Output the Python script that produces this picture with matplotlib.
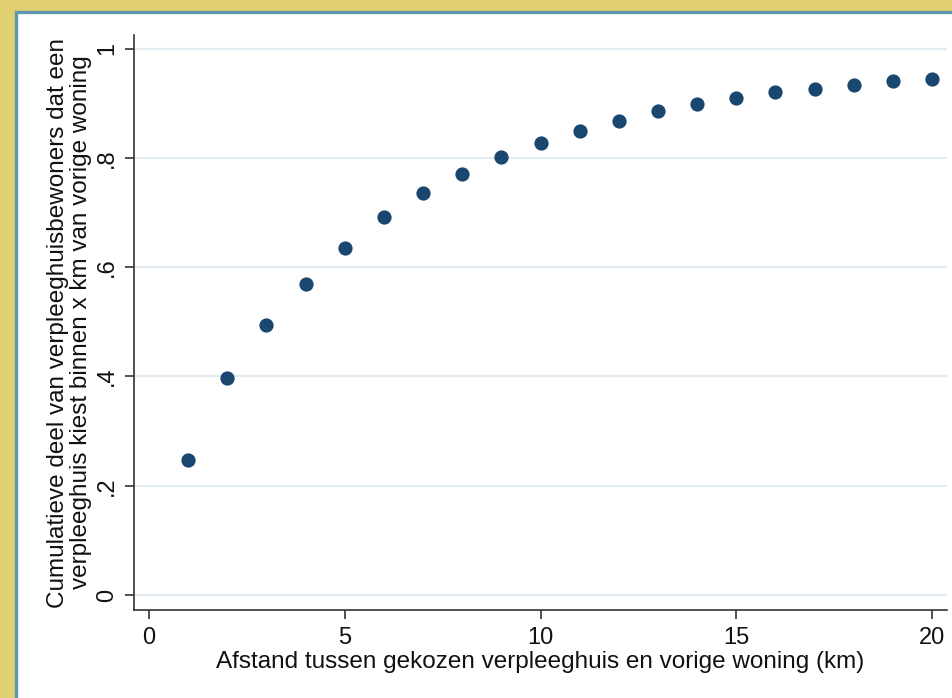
import numpy as np
import matplotlib.pyplot as plt
from matplotlib.patches import Rectangle

plt.rcParams['font.family'] = ['Liberation Sans', 'DejaVu Sans']

# afstand in km
afstand = [1, 2, 3, 4, 5, 6, 7, 8, 9, 10, 11, 12, 13, 14, 15, 16, 17, 18, 19, 20]
# cumulatief aandeel
aandeel = [0.247, 0.397, 0.495, 0.570, 0.636, 0.691, 0.735, 0.770, 0.801, 0.828,
           0.850, 0.868, 0.885, 0.898, 0.910, 0.920, 0.927, 0.934, 0.941, 0.945]

y_ticks = [0, 0.2, 0.4, 0.6, 0.8, 1]
y_labels = ['0', '.2', '.4', '.6', '.8', '1']
x_ticks = [0, 5, 10, 15, 20]

W, H = 952, 698
fig = plt.figure(figsize=(W / 100, H / 100), dpi=100, facecolor='#e0d072')
# witte kader met blauwe rand
kader = Rectangle((15.5 / W, -0.05), 1.1, (H - 11.5) / H + 0.05,
                  transform=fig.transFigure, facecolor='white',
                  edgecolor='#5e97b0', linewidth=2.4, zorder=-10)
fig.add_artist(kader)

ax = fig.add_axes([134 / W, (H - 610) / H, (947 - 134) / W, (610 - 35) / H])
ax.set_facecolor('none')
ax.scatter(afstand, aandeel, s=105, color='#1a476f', zorder=3, linewidths=0)

ax.set_xlim(-0.383, 20.38)
ax.set_ylim(-0.0274, 1.025)
ax.set_yticks(y_ticks)
ax.set_yticklabels(y_labels, rotation=90, va='center')
ax.set_xticks(x_ticks)

for side in ['top', 'right']:
    ax.spines[side].set_visible(False)
for side in ['left', 'bottom']:
    ax.spines[side].set_color('#333333')
    ax.spines[side].set_linewidth(1.2)

ax.tick_params(axis='both', length=6.5, width=1.2, color='#333333', labelsize=17,
               labelcolor='#111111')
ax.tick_params(axis='y', pad=5)
ax.tick_params(axis='x', pad=6)
ax.grid(axis='y', color='#e0ecf0', linewidth=1.6, zorder=0)
ax.set_axisbelow(True)

ax.set_xlabel('Afstand tussen gekozen verpleeghuis en vorige woning (km)',
              fontsize=17.5, color='#111111', labelpad=1)
ax.set_ylabel('Cumulatieve deel van verpleeghuisbewoners dat een\n'
              'verpleeghuis kiest binnen x km van vorige woning',
              fontsize=17.5, color='#111111', labelpad=3, linespacing=1.08)

fig.savefig('out.png', dpi=100, facecolor=fig.get_facecolor())
